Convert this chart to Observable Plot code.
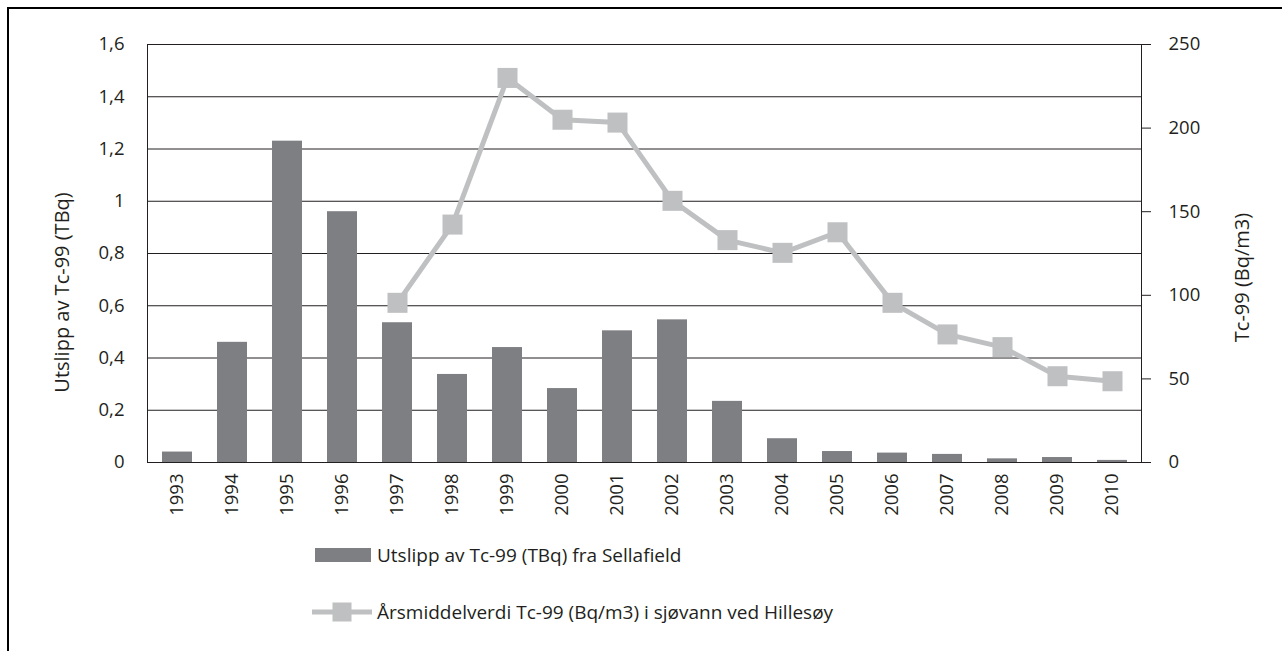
<!DOCTYPE html>
<html><head><meta charset="utf-8">
<script src="https://cdn.jsdelivr.net/npm/d3@7"></script>
<script src="https://cdn.jsdelivr.net/npm/@observablehq/plot@0.6"></script>
<style>
body{margin:0;background:#fff;font-family:"Open Sans",sans-serif;color:#231f20;overflow:hidden;}
#frame{position:absolute;left:7px;top:7px;width:1300px;height:700px;border-left:2px solid #000;border-top:2px solid #000;}
#chart{position:absolute;left:0;top:0;}
.legtext{position:absolute;font-size:19px;line-height:26px;white-space:nowrap;}
</style></head><body>
<div id="frame"></div>
<div id="chart"></div>
<div id="legend"></div>
<script>
const years = ["1993","1994","1995","1996","1997","1998","1999","2000","2001","2002","2003","2004","2005","2006","2007","2008","2009","2010"];
const releases = [0.04,0.46,1.23,0.96,0.535,0.337,0.44,0.283,0.504,0.546,0.234,0.091,0.042,0.036,0.031,0.014,0.019,0.008];
const seaYears = ["1997","1998","1999","2000","2001","2002","2003","2004","2005","2006","2007","2008","2009","2010"];
const seaValues = [95.5,142.3,230,205,203.3,156.5,133,125.4,137.7,95.5,76.6,69,51.6,48.6];
const leftTicks = [0,0.2,0.4,0.6,0.8,1,1.2,1.4,1.6];
const rightTicks = [0,50,100,150,200,250];
const leftTitle = "Utslipp av Tc-99 (TBq)";
const rightTitle = "Tc-99 (Bq/m3)";
const legendBar = "Utslipp av Tc-99 (TBq) fra Sellafield";
const legendLine = "Årsmiddelverdi Tc-99 (Bq/m3) i sjøvann ved Hillesøy";

const barColor = "#7e7f83", lineColor = "#bfc0c2", ink = "#231f20";
const k = 1.6 / 250;
const bars = years.map((y, i) => ({year: y, value: releases[i]}));
const sea = seaYears.map((y, i) => ({year: y, value: seaValues[i]}));
const fmt = d => String(+d.toFixed(1)).replace(".", ",");

const chart = Plot.plot({
  width: 1282, height: 530,
  marginLeft: 147, marginRight: 141, marginTop: 44, marginBottom: 68,
  style: {fontFamily: "Open Sans", fontSize: "18.5px", color: ink, background: "transparent", overflow: "visible"},
  x: {domain: years, paddingInner: 0.46, paddingOuter: 0.23, label: null},
  y: {domain: [0, 1.6], label: null},
  marks: [
    Plot.ruleY(leftTicks, {stroke: ink, strokeWidth: 1}),
    Plot.barY(bars, {x: "year", y: "value", fill: barColor}),
    Plot.frame({stroke: ink, strokeWidth: 1}),
    Plot.line(sea, {x: "year", y: d => d.value * k, stroke: lineColor, strokeWidth: 5}),
    Plot.dot(sea, {x: "year", y: d => d.value * k, symbol: "square", r: 11.3, fill: lineColor, stroke: null}),
    Plot.axisY(leftTicks, {anchor: "left", tickSize: 0, tickPadding: 23, tickFormat: fmt, label: null}),
    Plot.axisY(rightTicks.map(t => t * k), {anchor: "right", tickSize: 9, tickPadding: 18, tickFormat: d => String(Math.round(d / k)), label: null, stroke: ink}),
    Plot.axisX({tickRotate: -90, tickSize: 0, tickPadding: 11, label: null}),
    Plot.text([leftTitle], {frameAnchor: "left", dx: -85, dy: 39, rotate: -90, textAnchor: "middle", fontSize: 20}),
    Plot.text([rightTitle], {frameAnchor: "right", dx: 101, dy: 24, rotate: -90, textAnchor: "middle", fontSize: 20})
  ]
});
document.getElementById("chart").appendChild(chart);

const leg = document.getElementById("legend");
leg.innerHTML = `
<div style="position:absolute;left:315px;top:548px;width:56px;height:14px;background:${barColor}"></div>
<div class="legtext" style="left:377px;top:542px">${legendBar}</div>
<svg style="position:absolute;left:312px;top:602px" width="60" height="20">
  <line x1="0" x2="60" y1="10" y2="10" stroke="${lineColor}" stroke-width="5"/>
  <rect x="20.5" y="0.5" width="19" height="19" fill="${lineColor}"/>
</svg>
<div class="legtext" style="left:377px;top:599px">${legendLine}</div>`;
</script>
</body></html>
